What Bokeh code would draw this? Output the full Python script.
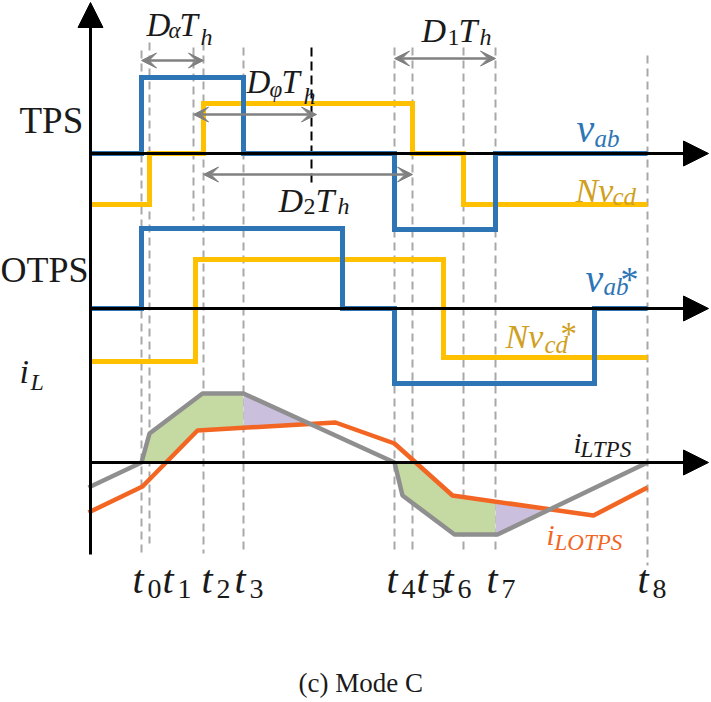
import numpy as np
from bokeh.plotting import figure
from bokeh.models import Range1d, Arrow, NormalHead, VeeHead, ColumnDataSource
from bokeh.core.properties import value
from bokeh.embed import file_html
from bokeh.resources import INLINE

# ---------------- data ----------------
t_names = ["0", "1", "2", "3", "4", "5", "6", "7", "8"]
t_vals = [141, 149, 203, 243, 394, 412, 463, 495, 647]
t_begin = 90

# TPS waveforms: switching instants and levels
vab_tps_edges = [90, 141, 243, 394, 495, 647]
vab_tps_levels = [0, 76, 0, -76, 0]
nvcd_tps_edges = [90, 149, 203, 412, 463, 647]
nvcd_tps_levels = [-51, 0, 50, 0, -51]

# OTPS waveforms
vab_otps_edges = [90, 141, 342, 394, 594, 647]
vab_otps_levels = [0, 80, 0, -75, 0]
nvcd_otps_edges = [90, 195, 443, 647]
nvcd_otps_levels = [-53, 49, -49]

# inductor currents
il_tps_x = [88, 141, 149, 202, 243, 394, 402, 454, 497, 647]
il_tps_y = [-25, 0, 29, 69, 69, 0, -33, -72, -72, 0]
il_otps_x = [88, 142, 197, 335, 394, 452, 593, 647]
il_otps_y = [-50, -24, 32, 40, 19, -33, -53, -25]

# ---------------- layout / style ----------------
BASE_TPS, BASE_OTPS, BASE_IL = 153, 308, 462
BLUE = "#2e75b6"
YELLOW = "#ffc000"
GOLD = "#d0a021"
ORANGE = "#f26522"
GREYLINE = "#8f8f8f"
DASH = "#a8a8a8"
DIMC = "#808080"
GREEN = "#c5daa2"
PURPLE = "#cac0dd"
SERIF = "Liberation Serif"
BASELINE_FIX = 0.35   # renderer places alphabetic baseline ~0.35em lower


def step(edges, levels, base):
    xs, ys = [edges[0]], [levels[0]]
    for i in range(1, len(edges) - 1):
        xs += [edges[i], edges[i]]
        ys += [levels[i - 1], levels[i]]
    xs.append(edges[-1])
    ys.append(levels[-1])
    return xs, [base - v for v in ys]


p = figure(width=711, height=702, x_range=Range1d(0, 711), y_range=Range1d(702, 0),
           output_backend="svg", toolbar_location=None, min_border=0)
p.axis.visible = False
p.grid.visible = False
p.outline_line_color = None
p.background_fill_color = "white"
p.border_fill_color = "white"

# ---- dashed guide lines ----
T = dict(zip(t_names, t_vals))
dash_x = t_vals + [193]
dash_top = [50, 42, 42, 47, 47, 47, 47, 47, 55, 47]
dash_bot = [553, 543, 553, 553, 553, 553, 553, 553, 565, 220]
p.segment(x0=dash_x, y0=dash_top, x1=dash_x, y1=dash_bot,
          line_color=DASH, line_width=2, line_dash="8 5")
p.segment(x0=[311], y0=[47], x1=[311], y1=[187], line_color="black",
          line_width=2, line_dash="9 5")

# ---- shaded areas between the two currents ----
xg = np.linspace(T["0"], T["8"], 3000)
g = np.interp(xg, il_tps_x, il_tps_y)
o = np.interp(xg, il_otps_x, il_otps_y)
up_low = np.maximum(0, o)
dn_up = np.minimum(0, o)
m1 = (xg > T["3"]) & (g <= o)
xc1 = xg[np.argmax(m1)]
m2 = (xg > T["7"]) & (g >= o)
xc2 = xg[np.argmax(m2)]


def area(mask, top, bottom, color):
    xs = xg[mask]
    t = top[mask]
    b = bottom[mask]
    t = np.where(t > b, t, b)
    p.varea(x=xs, y1=BASE_IL - t, y2=BASE_IL - b, fill_color=color, fill_alpha=1)


area((xg >= T["0"]) & (xg <= T["3"]), g, up_low, GREEN)
area((xg >= T["3"]) & (xg <= xc1), g, up_low, PURPLE)
area((xg >= T["4"]) & (xg <= T["7"]), dn_up, g, GREEN)
area((xg >= T["7"]) & (xg <= xc2), dn_up, g, PURPLE)

# ---- axes with arrows ----
for base in (BASE_TPS, BASE_OTPS, BASE_IL):
    p.add_layout(Arrow(x_start=90, y_start=base, x_end=708, y_end=base,
                       line_color="black", line_width=3,
                       end=NormalHead(size=25, fill_color="black", line_color="black")))
p.add_layout(Arrow(x_start=90, y_start=554, x_end=90, y_end=2,
                   line_color="black", line_width=3,
                   end=NormalHead(size=25, fill_color="black", line_color="black")))

# ---- switching waveforms ----
for edges, levels, base, col in [
    (nvcd_tps_edges, nvcd_tps_levels, BASE_TPS, YELLOW),
    (vab_tps_edges, vab_tps_levels, BASE_TPS, BLUE),
    (nvcd_otps_edges, nvcd_otps_levels, BASE_OTPS, YELLOW),
    (vab_otps_edges, vab_otps_levels, BASE_OTPS, BLUE),
]:
    xs, ys = step(edges, levels, base)
    p.line(xs, ys, line_color=col, line_width=5, line_join="miter")

# ---- currents ----
p.line(il_otps_x, [BASE_IL - v for v in il_otps_y], line_color=ORANGE, line_width=4.5)
p.line(il_tps_x, [BASE_IL - v for v in il_tps_y], line_color=GREYLINE, line_width=4.5)

# ---- dimension arrows ----
for xs_, xe_, yy in [(141, 203, 60), (193, 316, 114), (203, 412, 174), (394, 495, 58)]:
    hd = dict(size=15, fill_color=DIMC, line_color=DIMC, line_width=1)
    p.add_layout(Arrow(x_start=xs_, y_start=yy, x_end=xe_, y_end=yy,
                       line_color=DIMC, line_width=2.5,
                       start=VeeHead(**hd), end=VeeHead(**hd)))

# ---- texts (segments: x, baseline y, text, size, style, color) ----
K = "#1a1a1a"
segs = [
    (19, 133, "TPS", 37, "normal", K),
    (0, 282, "OTPS", 36, "normal", K),
    (19, 383, "i", 34, "italic", K), (30, 390, "L", 24, "italic", K),
    # D_alpha T_h
    (146, 36, "D", 33, "italic", K), (168, 38, "α", 23, "italic", K),
    (179, 36, "T", 33, "italic", K), (200, 45, "h", 24, "italic", K),
    # D_phi T_h
    (246, 93, "D", 33, "italic", K), (269, 97, "φ", 23, "italic", K),
    (281, 93, "T", 33, "italic", K), (303, 104, "h", 24, "italic", K),
    # D_2 T_h
    (278, 212, "D", 34, "italic", K), (303, 214, "2", 24, "normal", K),
    (315, 212, "T", 34, "italic", K), (337, 214, "h", 24, "italic", K),
    # D_1 T_h
    (421, 42, "D", 34, "italic", K), (447, 45, "1", 24, "normal", K),
    (458, 42, "T", 34, "italic", K), (479, 45, "h", 24, "italic", K),
    # v_ab
    (576, 142, "v", 40, "italic", BLUE), (594, 147, "ab", 25, "italic", BLUE),
    # N v_cd
    (575, 202, "Nv", 34, "italic", GOLD), (612, 205, "cd", 25, "italic", GOLD),
    # v_ab*
    (585, 292, "v", 40, "italic", BLUE), (603, 295, "ab", 25, "italic", BLUE),
    (620, 292, "*", 36, "normal", BLUE),
    # N v_cd*
    (505, 348, "Nv", 34, "italic", GOLD), (544, 353, "cd", 25, "italic", GOLD),
    (560, 345, "*", 33, "normal", GOLD),
    # i_LTPS
    (573, 453, "i", 29, "italic", K), (580, 457, "LTPS", 23, "italic", K),
    # i_LOTPS
    (546, 545, "i", 29, "italic", ORANGE), (554, 550, "LOTPS", 23, "italic", ORANGE),
    # caption
    (298, 692, "(c) Mode C", 27, "normal", K),
]
t_lab_x = [132, 162, 201, 234, 386, 416, 442, 486, 637]
for lx, nm in zip(t_lab_x, t_names):
    segs.append((lx, 593, "t", 40, "italic", K))
    segs.append((lx + 15, 598, nm, 28, "normal", K))

src = ColumnDataSource(dict(
    x=[s[0] for s in segs], y=[s[1] - BASELINE_FIX * s[3] for s in segs],
    text=[s[2] for s in segs],
    size=["%dpx" % s[3] for s in segs], style=[s[4] for s in segs],
    color=[s[5] for s in segs]))
p.text(x="x", y="y", text="text", source=src, text_font=value(SERIF),
       text_font_size="size", text_font_style="style", text_color="color",
       text_baseline="alphabetic", text_align="left")

open("out.html", "w").write(file_html(p, INLINE))
